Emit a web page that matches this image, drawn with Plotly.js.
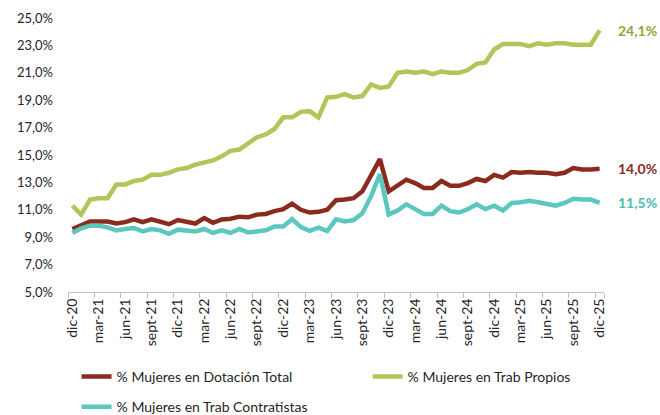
<!DOCTYPE html>
<html>
<head>
<meta charset="utf-8">
<script src="https://cdn.plot.ly/plotly-3.0.1.min.js"></script>
<style>html,body{margin:0;padding:0;background:#fff;}#chart{width:660px;height:415px;}</style>
</head>
<body>
<div id="chart"></div>
<script>
const months = ["dic-20","ene-21","feb-21","mar-21","abr-21","may-21","jun-21","jul-21","ago-21","sept-21","oct-21","nov-21",
"dic-21","ene-22","feb-22","mar-22","abr-22","may-22","jun-22","jul-22","ago-22","sept-22","oct-22","nov-22",
"dic-22","ene-23","feb-23","mar-23","abr-23","may-23","jun-23","jul-23","ago-23","sept-23","oct-23","nov-23",
"dic-23","ene-24","feb-24","mar-24","abr-24","may-24","jun-24","jul-24","ago-24","sept-24","oct-24","nov-24",
"dic-24","ene-25","feb-25","mar-25","abr-25","may-25","jun-25","jul-25","ago-25","sept-25","oct-25","nov-25","dic-25"];

const tickLabels = ["dic-20","mar-21","jun-21","sept-21","dic-21","mar-22","jun-22","sept-22","dic-22","mar-23","jun-23",
"sept-23","dic-23","mar-24","jun-24","sept-24","dic-24","mar-25","jun-25","sept-25","dic-25"];

const dotacionTotal = [9.6, 9.85, 10.15, 10.15, 10.15, 10.0, 10.1, 10.3, 10.1, 10.3,
  10.1, 9.95, 10.25, 10.15, 10.0, 10.4, 10.05, 10.3, 10.35, 10.5,
  10.45, 10.65, 10.7, 10.9, 11.05, 11.45, 11.0, 10.8, 10.85, 11.0,
  11.7, 11.75, 11.85, 12.35, 13.6, 14.7, 12.35, 12.8, 13.2, 12.95,
  12.6, 12.6, 13.1, 12.75, 12.75, 12.95, 13.25, 13.1, 13.55, 13.35,
  13.75, 13.7, 13.75, 13.7, 13.7, 13.6, 13.7, 14.05, 13.95, 13.95, 14.0];

const trabPropios = [11.3, 10.65, 11.75, 11.85, 11.85, 12.85, 12.85, 13.1, 13.2, 13.55,
  13.55, 13.7, 13.95, 14.05, 14.3, 14.45, 14.6, 14.9, 15.3, 15.4,
  15.9, 16.3, 16.5, 16.9, 17.75, 17.75, 18.15, 18.2, 17.75, 19.2,
  19.25, 19.45, 19.2, 19.3, 20.15, 19.9, 20.0, 21.0, 21.1, 21.0,
  21.1, 20.9, 21.1, 21.0, 21.0, 21.2, 21.65, 21.75, 22.7, 23.1,
  23.1, 23.1, 22.95, 23.15, 23.05, 23.15, 23.15, 23.05, 23.05, 23.05, 24.1];

const trabContratistas = [9.3, 9.65, 9.84, 9.84, 9.72, 9.5, 9.6, 9.67, 9.42, 9.6,
  9.5, 9.25, 9.55, 9.47, 9.42, 9.6, 9.31, 9.5, 9.31, 9.6,
  9.35, 9.42, 9.5, 9.79, 9.79, 10.33, 9.74, 9.47, 9.7, 9.45,
  10.3, 10.15, 10.25, 10.75, 12.0, 13.6, 10.65, 10.95, 11.4, 11.05,
  10.7, 10.7, 11.3, 10.9, 10.8, 11.05, 11.4, 11.05, 11.3, 10.95,
  11.5, 11.55, 11.65, 11.55, 11.45, 11.3, 11.5, 11.8, 11.75, 11.75, 11.5];

const seriesNames = ["% Mujeres en Dotación Total", "% Mujeres en Trab Propios", "% Mujeres en Trab Contratistas"];
const lineColors = ["#8B2B1E", "#B2C45A", "#5CC8BD"];
const labelColors = ["#8B2B1E", "#8FA63A", "#4DBDB1"];
const allSeries = [dotacionTotal, trabPropios, trabContratistas];
const legendIds = ["legend", "legend3", "legend2"];

const FONT = "Lato, 'Open Sans', sans-serif";

const traces = allSeries.map((vals, k) => ({
  type: "scatter",
  mode: "lines",
  x: months,
  y: vals,
  name: seriesNames[k],
  line: {color: lineColors[k], width: 4.5},
  legend: legendIds[k],
  hoverinfo: "skip"
}));

function fmt(v) { return v.toFixed(1).replace(".", ",") + "%"; }

const annotations = allSeries.map((vals, k) => ({
  xref: "x", yref: "y",
  x: months[months.length - 1],
  y: vals[vals.length - 1],
  text: "<b>" + fmt(vals[vals.length - 1]) + "</b>",
  showarrow: false,
  xanchor: "left",
  yanchor: "middle",
  xshift: 16,
  font: {family: FONT, size: 14, color: labelColors[k]}
}));

const legendFont = {family: FONT, size: 14, color: "#262626"};
function legendAt(x, y) {
  return {orientation: "h", x: x, xanchor: "left", y: y, yanchor: "middle",
          font: legendFont, bgcolor: "rgba(0,0,0,0)"};
}

const layout = {
  width: 660,
  height: 415,
  margin: {l: 68, r: 55.5, t: 18, b: 123, autoexpand: false},
  paper_bgcolor: "#ffffff",
  plot_bgcolor: "#ffffff",
  separators: ",.",
  font: {family: FONT, size: 13, color: "#262626"},
  showlegend: true,
  xaxis: {
    type: "category",
    range: [-0.5, 60.5],
    tickmode: "array",
    tickvals: tickLabels,
    ticktext: tickLabels,
    tickangle: -90,
    tickson: "boundaries",
    ticks: "outside",
    ticklen: 5,
    tickcolor: "#BFBFBF",
    showline: true,
    linecolor: "#BFBFBF",
    linewidth: 1,
    showgrid: false,
    zeroline: false,
    tickfont: {family: FONT, size: 14, color: "#262626"}
  },
  yaxis: {
    range: [5, 25],
    tick0: 5,
    dtick: 2,
    tickformat: ".1f",
    ticksuffix: "%",
    showline: false,
    showgrid: false,
    zeroline: false,
    ticks: "",
    ticklabelstandoff: 14,
    tickfont: {family: FONT, size: 13, color: "#262626"}
  },
  legend: legendAt(0.016, -0.31),
  legend3: legendAt(0.559, -0.31),
  legend2: legendAt(0.016, -0.42),
  annotations: annotations
};

Plotly.newPlot("chart", traces, layout, {staticPlot: true, displayModeBar: false});
</script>
</body>
</html>
